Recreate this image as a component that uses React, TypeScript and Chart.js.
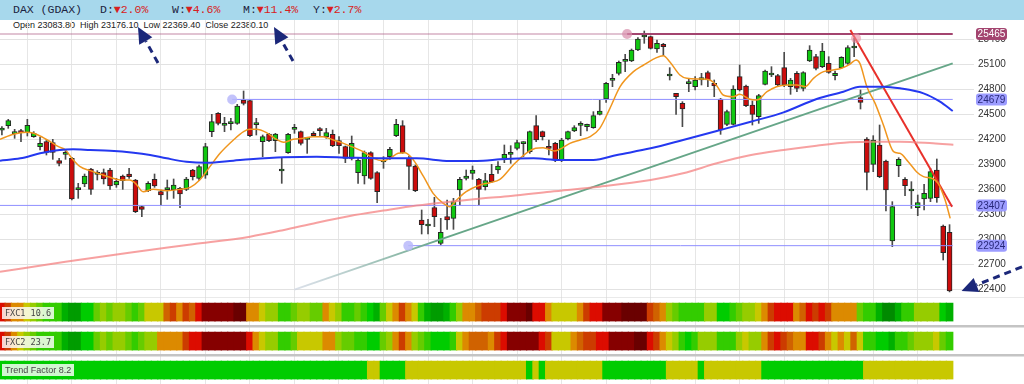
import React, { useEffect, useRef } from "react";
import { Chart, registerables } from "chart.js";

Chart.register(...registerables);

// ---------- DATA ----------
const OPEN = [
  24310, 24364, 24268, 24284, 24284, 24232, 24112, 24172, 24160, 23944,
  24020, 23972, 23596, 23664, 23844, 23780, 23800, 23832, 23652, 23760,
  23784, 23712, 23392, 23584, 23720, 23572, 23596, 23592, 23612, 23600,
  23832, 23732, 23770, 24292, 24512, 24368, 24388, 24392, 24672, 24664,
  24376, 24172, 24264, 24184, 23820, 24040, 24320, 24292, 24200, 24272,
  24324, 24232, 24260, 24184, 24112, 23972, 23800, 23760, 24040, 23800,
  23928, 23992, 24244, 24364, 23972, 23880, 23232, 23160, 23380, 22950,
  23272, 23252, 23592, 23732, 23792, 23720, 23632, 23780, 23832, 23972,
  24020, 24092, 24148, 24052, 24364, 24292, 24112, 24152, 23952, 24204,
  24300, 24368, 24352, 24340, 24500, 24684, 24908, 24992, 25136, 25140,
  25272, 25428, 25432, 25284, 25340, 24960, 24752, 24632, 24868, 24832,
  24912, 25000, 24872, 24684, 24380, 24380, 24952, 24840, 24612, 24472,
  24860, 24972, 24964, 25060, 24832, 24992, 24812, 25140, 25192, 25072,
  25112, 24964, 25060, 25112, 25296, 24700, 24204, 23900, 24132, 23940,
  22980, 23884, 23720, 23580, 23380, 23484, 23492, 23832, 23160, 23083.8,
];
const HIGH = [
  24352, 24440, 24320, 24320, 24440, 24292, 24224, 24192, 24200, 23972,
  24064, 23984, 23672, 23784, 23852, 23824, 23844, 23852, 23732, 23772,
  23852, 23720, 23400, 23692, 23784, 23592, 23712, 23724, 23624, 23744,
  23840, 23892, 24152, 24500, 24520, 24464, 24452, 24620, 24780, 24672,
  24452, 24252, 24272, 24272, 23972, 24272, 24380, 24300, 24220, 24292,
  24340, 24332, 24312, 24232, 24120, 24240, 23972, 24060, 24052, 23812,
  23992, 24104, 24440, 24424, 24000, 23892, 23352, 23240, 23504, 23252,
  23472, 23492, 23744, 23832, 23880, 23732, 23792, 23900, 23932, 24132,
  24124, 24192, 24172, 24300, 24484, 24300, 24192, 24164, 24212, 24300,
  24364, 24412, 24384, 24532, 24672, 24884, 24980, 25140, 25220, 25284,
  25420, 25500, 25440, 25392, 25352, 25060, 24752, 24652, 24932, 24952,
  24992, 25020, 24912, 24692, 24552, 24844, 25092, 24852, 24660, 24740,
  25032, 25072, 24980, 25244, 24932, 25012, 25012, 25324, 25220, 25352,
  25192, 25020, 25192, 25324, 25412, 24792, 24220, 24244, 24372, 23952,
  23452, 23980, 23740, 23692, 23532, 23660, 23852, 23964, 23172, 23176.1,
];
const LOW = [
  24252, 24332, 24212, 24172, 24240, 24224, 24072, 24012, 23960, 23880,
  23960, 23472, 23492, 23632, 23540, 23712, 23664, 23600, 23624, 23600,
  23732, 23320, 23272, 23572, 23624, 23412, 23480, 23492, 23380, 23584,
  23712, 23704, 23732, 24232, 24372, 24292, 24312, 24380, 24612, 24232,
  24252, 23992, 24172, 24052, 23672, 24032, 24272, 24132, 24032, 24232,
  24232, 24212, 24112, 24032, 23920, 23952, 23672, 23664, 23720, 23440,
  23852, 23960, 24232, 24032, 23600, 23572, 23064, 23064, 23152, 22932,
  23120, 23120, 23412, 23712, 23720, 23412, 23592, 23680, 23792, 23920,
  23912, 24072, 23992, 24032, 24172, 24192, 24012, 23932, 23932, 24192,
  24292, 24244, 24300, 24332, 24492, 24644, 24832, 24972, 25012, 25132,
  25264, 25352, 25284, 25244, 25204, 24912, 24500, 24352, 24772, 24792,
  24852, 24832, 24712, 24260, 24364, 24372, 24780, 24592, 24372, 24392,
  24852, 24952, 24844, 24832, 24740, 24772, 24780, 25132, 25032, 25060,
  24992, 24912, 25052, 25100, 25192, 24564, 23592, 23812, 23740, 23340,
  22912, 23752, 23524, 23372, 23284, 23352, 23452, 23444, 22752, 22369.4,
];
const CLOSE = [
  24316, 24424, 24276, 24280, 24368, 24272, 24152, 24044, 24044, 23912,
  24040, 23484, 23604, 23760, 23600, 23788, 23724, 23640, 23696, 23704,
  23752, 23332, 23360, 23672, 23640, 23532, 23604, 23652, 23544, 23724,
  23752, 23872, 24112, 24412, 24392, 24376, 24396, 24600, 24632, 24244,
  24384, 24232, 24184, 24264, 23828, 24260, 24328, 24152, 24208, 24244,
  24304, 24280, 24124, 24124, 23972, 24152, 23952, 24040, 23732, 23572,
  23936, 24080, 24380, 24040, 23876, 23584, 23176, 23168, 23272, 23085,
  23232, 23452, 23720, 23760, 23832, 23600, 23704, 23692, 23880, 24020,
  24044, 24160, 24156, 24292, 24192, 24232, 24092, 23952, 24192, 24292,
  24340, 24376, 24380, 24484, 24540, 24872, 24916, 25124, 25144, 25272,
  25404, 25436, 25292, 25352, 25312, 24968, 24712, 24564, 24876, 24912,
  24940, 24912, 24840, 24312, 24532, 24804, 24792, 24604, 24500, 24724,
  25020, 24992, 24852, 24852, 24912, 24812, 25000, 25272, 25052, 25260,
  25004, 24992, 25184, 25300, 25304, 24644, 23804, 24192, 23752, 23592,
  23392, 23960, 23644, 23588, 23440, 23552, 23812, 23500, 22840, 22380.1,
];

// moving averages: [candle index, price]
const MA_FAST: [number, number][] = [
  [-0.3, 24200], [1.8, 24260], [3.9, 24284], [5, 24272], [6, 24240], [7.6, 24172], [8.9, 24112],
  [10, 24072], [11, 23972], [12.3, 23872], [13.9, 23824], [15.4, 23784], [17, 23744], [18.6, 23712],
  [20.1, 23712], [21, 23672], [22.2, 23572], [23.8, 23600], [25.9, 23584], [28, 23600], [29.6, 23624],
  [31.1, 23712], [32.7, 23872], [34.3, 24032], [36.4, 24192], [38, 24292], [39, 24320], [40, 24320],
  [41.6, 24280], [42.9, 24212], [44.3, 24164], [45.8, 24200], [47.4, 24212], [48.9, 24232], [50.5, 24232],
  [52.1, 24192], [53.7, 24152], [55.3, 24104], [56.8, 24052], [58.4, 23972], [60, 23944], [61, 23972],
  [62.3, 24032], [63.4, 24040], [64.7, 23952], [66.3, 23752], [67.8, 23552], [69.4, 23432], [70.4, 23392],
  [71.5, 23472], [73, 23572], [75.2, 23652], [76.7, 23680], [78.3, 23720], [80.4, 23892], [82.4, 24032],
  [83.9, 24092], [85.1, 24100], [86.9, 24060], [88, 24092], [89.3, 24152], [90.9, 24192], [92.5, 24232],
  [94, 24332], [95.6, 24572], [97.2, 24832], [99.3, 25012], [100.9, 25092], [102.7, 25172], [104, 25204],
  [105, 25132], [106.6, 24972], [107.7, 24932], [109.8, 24924], [111.3, 24912], [112.4, 24844], [113.4, 24732],
  [115, 24712], [116, 24740], [117.6, 24680], [118.7, 24672], [120.3, 24772], [121.8, 24832], [123.4, 24852],
  [125, 24852], [126.3, 24832], [127.6, 24932], [129.2, 25012], [130.7, 25032], [132, 25052], [133.3, 25100],
  [134.3, 25152], [134.9, 25112], [136, 24832], [137.3, 24632], [138.6, 24372], [140.2, 24052], [141.2, 24032],
  [142.5, 23932], [143.8, 23812], [144.9, 23752], [146.2, 23732], [147.2, 23672], [148.3, 23472], [149.1, 23252],
];
const MA_MID: [number, number][] = [
  [-0.3, 23944], [2.9, 23972], [6, 24032], [9.1, 24072], [11.2, 24080], [13.9, 24072], [17, 24064],
  [20.7, 24040], [23.3, 24012], [25.9, 23972], [29, 23932], [32.2, 23920], [36.4, 23944], [39, 23960],
  [44.3, 23984], [49.5, 23992], [54.7, 23980], [60, 23972], [65.2, 23972], [70.4, 23940], [75.7, 23944],
  [78.3, 23960], [83.6, 23972], [87.7, 23952], [93, 23952], [96.7, 24012], [102, 24092], [107.1, 24192],
  [112.4, 24300], [117.6, 24408], [122.9, 24524], [128.1, 24684], [132.3, 24772], [134.9, 24832],
  [138.6, 24832], [141.2, 24812], [144.9, 24752], [147.5, 24652], [149.5, 24540],
];
const MA_SLOW: [number, number][] = [
  [-0.3, 22610], [10, 22730], [20, 22840], [30, 22940], [39, 23032], [44.2, 23110], [49.5, 23200],
  [54.7, 23280], [60, 23345], [65.2, 23405], [70.5, 23452], [75.7, 23492], [80, 23520], [86.2, 23572],
  [94, 23632], [102, 23712], [107.1, 23792], [112.4, 23912], [117.6, 24008], [122.9, 24072],
  [128.1, 24124], [133.3, 24164], [137, 24172], [141.2, 24172], [146.4, 24152], [149.6, 24135],
];
const TREND_UP: [number, number][] = [[46, 22396], [149.5, 25111]];
const TREND_DOWN: [number, number][] = [[133.4, 25512], [149.4, 23390]];

const LEVELS = [25465, 24679, 23407, 22924];
const LEVEL_ANCHOR = [98.3, 36.2, -0.3, 63.9];
const PRICE_TICKS = [22400, 22700, 23000, 23300, 23600, 23900, 24200, 24500, 24800, 25100, 25400];
const GRID_IDX = [4, 11, 18, 25, 32, 39, 46, 53, 60, 67, 74, 81, 88, 95, 102, 109, 116, 123, 130, 137, 144];

const HEADER_CHANGES = [
  { k: "D:", v: "▼2.0%" },
  { k: "W:", v: "▼4.6%" },
  { k: "M:", v: "▼11.4%" },
  { k: "Y:", v: "▼2.7%" },
];
const OHLC_TEXT = "Open 23083.80  High 23176.10  Low 22369.40  Close 22380.10";

const FXC1 =
  "RrOOYylggg" + "dkkGGlylyy" + "lglYYYorOr" + "oRMMMMMDDO" + "OYyygglyyl" +
  "lOYygglgGd" + "lYOrOYgdkk" + "dgyOOorrrR" + "MMMDRROYYY" + "YOrRRMMMDD" +
  "DDroOylggg" + "gyyGGglyyY" + "OrRRROoRrR" + "rOOOOlggdK" + "KdggyyyyGd";
const FXC2 =
  "RrOYylgggg" + "dkkGGlylyy" + "lglyyOOOOr" + "RRMMMMMMMR" + "OYyygglYYY" +
  "YOOyllggGG" + "lyOrOylgGG" + "GgYOoooOrR" + "MMMMMRrYYY" + "OorrRRMMMM" +
  "DDRrOYygGg" + "yyygggyYyy" + "OrRroOORRr" + "OYOYoYggGG" + "dgglyyyYlg";
const TREND =
  "GGGGGGGGGG" + "GGGGGGGGGG" + "GGGGGGGGGG" + "GGGGGGGGGG" + "GGGGGGGGGG" +
  "GGGGGGGGYY" + "GGGGYYYYYY" + "YYYYYYYYYY" + "YYYGYGYYYY" + "YYYYYGGGGG" +
  "GGGGGYYYYY" + "GYYYYYYYYY" + "GGGGGGGGGG" + "GGGGGGYYYY" + "YYYYYYYYYY";
const STRIP_LABELS = ["FXC1 10.6", "FXC2 23.7", "Trend Factor 8.2"];

const PALETTE: Record<string, string> = {
  D: "#6a0000", M: "#860000", R: "#dc0c00", r: "#cc3c00", o: "#d06200", O: "#dc8a00",
  Y: "#c8c800", y: "#96cc00", l: "#66cc00", g: "#33cc00", G: "#00cc00", d: "#00b000",
  k: "#009c00", K: "#008a00",
};

// ---------- STYLE ----------
const X_MIN = -0.3;
const X_MAX = 149.7;
const Y_MIN = 22308;
const Y_MAX = 25632;
const AXIS_W = 70;
const FONT = '"Liberation Sans", Arial, sans-serif';

const pts = (a: [number, number][]) => a.map(([x, y]) => ({ x, y }));

function drawArrow(ctx: CanvasRenderingContext2D, tx: number, ty: number, fx: number, fy: number) {
  const ang = Math.atan2(ty - fy, tx - fx);
  const head = 16;
  const hw = 7.5;
  const bx = tx - head * Math.cos(ang);
  const by = ty - head * Math.sin(ang);
  ctx.strokeStyle = "#1b2779";
  ctx.fillStyle = "#1b2779";
  ctx.lineWidth = 3;
  ctx.setLineDash([7, 5]);
  ctx.beginPath();
  ctx.moveTo(fx, fy);
  ctx.lineTo(bx, by);
  ctx.stroke();
  ctx.setLineDash([]);
  ctx.beginPath();
  ctx.moveTo(tx, ty);
  ctx.lineTo(bx + hw * Math.sin(ang), by - hw * Math.cos(ang));
  ctx.lineTo(bx - hw * Math.sin(ang), by + hw * Math.cos(ang));
  ctx.closePath();
  ctx.fill();
}

const overlayPlugin = {
  id: "overlay",
  afterDraw(chart: any) {
    const { ctx, chartArea, scales } = chart;
    const ys = scales.y;
    const xs = scales.x;
    ctx.save();
    ctx.font = `10px ${FONT}`;
    ctx.textBaseline = "middle";
    ctx.textAlign = "center";
    LEVELS.forEach((v, k) => {
      const y = ys.getPixelForValue(v);
      const x = chartArea.right + 22;
      const w = 31;
      const h = 12;
      ctx.fillStyle = k === 0 ? "#a3446f" : "#9c9cff";
      ctx.beginPath();
      (ctx as any).roundRect(x, y - h / 2, w, h, 3);
      ctx.fill();
      ctx.fillStyle = k === 0 ? "#ffffff" : "#28287a";
      ctx.fillText(String(v), x + w / 2, y + 0.5);
    });
    // annotation arrows
    drawArrow(ctx, 138, 7, 158, 43);
    drawArrow(ctx, 274, 7, 293, 41);
    const last = OPEN.length - 1;
    const tx = xs.getPixelForValue(last) + 12;
    const ty = ys.getPixelForValue(LOW[last]) - 1;
    drawArrow(ctx, tx, ty, chart.width - 2, ty - 24);
    ctx.restore();
  },
};

const xAxis = () => ({
  type: "linear",
  min: X_MIN,
  max: X_MAX,
  offset: false,
  afterBuildTicks: (s: any) => {
    s.ticks = GRID_IDX.map((v) => ({ value: v }));
  },
  afterFit: (s: any) => {
    s.height = 0;
    s.paddingLeft = 0;
    s.paddingRight = 0;
  },
  ticks: { display: false },
  grid: { color: "#e6e6e6", drawTicks: false, offset: false },
  border: { display: false },
});

export default function App() {
  const mainRef = useRef<HTMLCanvasElement>(null);
  const stripRef = useRef<HTMLCanvasElement>(null);

  useEffect(() => {
    const up = CLOSE.map((c, i) => c >= OPEN[i]);
    const bodies = OPEN.map((o, i) => ({ x: i, y: [o, CLOSE[i]] }));
    const wicks = OPEN.map((_, i) => ({ x: i, y: [LOW[i], HIGH[i]] }));

    const lineDs = (data: any[], color: any, width: number, extra: any = {}) => ({
      type: "line",
      data,
      borderColor: color,
      borderWidth: width,
      pointRadius: 0,
      pointHoverRadius: 0,
      fill: false,
      spanGaps: false,
      cubicInterpolationMode: "monotone",
      order: 0,
      ...extra,
    });
    const straight = { cubicInterpolationMode: "default", tension: 0 };

    const levelDatasets: any[] = [];
    LEVELS.forEach((v, k) => {
      if (k === 0) {
        levelDatasets.push(lineDs([{ x: X_MIN, y: v }, { x: LEVEL_ANCHOR[k], y: v }], "rgba(175,95,135,0.5)", 1.5, straight));
        levelDatasets.push(lineDs([{ x: LEVEL_ANCHOR[k], y: v }, { x: 149.5, y: v }], "#a3446f", 2, straight));
      } else {
        levelDatasets.push(lineDs([{ x: LEVEL_ANCHOR[k], y: v }, { x: 149.5, y: v }], "#8f8fff", 1, straight));
      }
    });

    const circles = {
      type: "scatter",
      showLine: false,
      data: [
        { x: LEVEL_ANCHOR[1], y: LEVELS[1] },
        { x: LEVEL_ANCHOR[3], y: LEVELS[3] },
        { x: LEVEL_ANCHOR[0], y: LEVELS[0] },
        { x: TREND_DOWN[0][0] + 0.9, y: HIGH[134] },
      ],
      borderColor: "rgba(0,0,0,0)",
      borderWidth: 0,
      pointRadius: 5,
      pointHoverRadius: 0,
      pointBorderWidth: 0,
      pointBorderColor: "rgba(0,0,0,0)",
      pointBackgroundColor: ["rgba(185,185,250,0.85)", "rgba(185,185,250,0.85)", "rgba(215,140,170,0.7)", "rgba(235,140,160,0.6)"],
      order: -1,
    };

    const trendUpColor = (ctx: any) => {
      const chart = ctx.chart;
      const { chartArea, scales } = chart;
      if (!chartArea) return "#5f9f80";
      const x0 = scales.x.getPixelForValue(TREND_UP[0][0]);
      const x1 = scales.x.getPixelForValue(69);
      const g = chart.ctx.createLinearGradient(x0, 0, x1, 0);
      g.addColorStop(0, "rgba(205,212,225,0.7)");
      g.addColorStop(1, "#66a688");
      return g;
    };

    const main = new Chart(mainRef.current as HTMLCanvasElement, {
      type: "bar",
      data: {
        datasets: [
          {
            type: "bar",
            data: wicks,
            backgroundColor: "#4a4a4a",
            barThickness: 1,
            grouped: false,
            order: 3,
          },
          {
            type: "bar",
            data: bodies,
            backgroundColor: up.map((u) => (u ? "#10c810" : "#cc0c0c")),
            borderColor: "#262626",
            borderWidth: 1,
            borderSkipped: false,
            barThickness: 5,
            minBarLength: 2,
            grouped: false,
            order: 2,
          },
          lineDs(pts(MA_SLOW), "rgba(244,130,130,0.75)", 2),
          lineDs(pts(MA_MID), "#2438f0", 2),
          lineDs(pts(MA_FAST), "#f0961e", 1.5),
          lineDs(pts(TREND_UP), trendUpColor, 2, straight),
          lineDs(pts(TREND_DOWN), "#e8302a", 2, straight),
          ...levelDatasets,
          circles,
        ] as any,
      },
      options: {
        animation: false,
        responsive: false,
        maintainAspectRatio: false,
        events: [],
        layout: { padding: 0, autoPadding: false },
        plugins: { legend: { display: false }, tooltip: { enabled: false } },
        scales: {
          x: xAxis(),
          y: {
            type: "linear",
            position: "right",
            min: Y_MIN,
            max: Y_MAX,
            afterBuildTicks: (s: any) => {
              s.ticks = PRICE_TICKS.map((v) => ({ value: v }));
            },
            afterFit: (s: any) => {
              s.width = AXIS_W;
              s.paddingTop = 0;
              s.paddingBottom = 0;
            },
            ticks: {
              color: "#333",
              font: { family: FONT, size: 10, lineHeight: 0.1 },
              padding: 4,
              callback: (v: any) => String(v),
            },
            grid: { color: "#e2e2e2", tickLength: 20 },
            border: { display: false },
          },
        },
      } as any,
      plugins: [overlayPlugin],
    });

    const stripSets = [FXC1, FXC2, TREND].map((codes, r) => ({
      type: "bar",
      data: Array.from(codes).map((_, i) => ({ x: i, y: [r + 0.21, r + 0.83] })),
      backgroundColor: Array.from(codes).map((c) => PALETTE[c]),
      barThickness: 7,
      borderWidth: 0,
      grouped: false,
    }));

    const strips = new Chart(stripRef.current as HTMLCanvasElement, {
      type: "bar",
      data: { datasets: stripSets as any },
      options: {
        animation: false,
        responsive: false,
        maintainAspectRatio: false,
        events: [],
        layout: { padding: 0, autoPadding: false },
        plugins: { legend: { display: false }, tooltip: { enabled: false } },
        scales: {
          x: xAxis(),
          y: {
            type: "linear",
            position: "right",
            reverse: true,
            min: 0,
            max: 3,
            afterBuildTicks: (s: any) => {
              s.ticks = [0, 1, 2].map((v) => ({ value: v }));
            },
            afterFit: (s: any) => {
              s.width = AXIS_W;
              s.paddingTop = 0;
              s.paddingBottom = 0;
            },
            ticks: { display: false },
            grid: {
              color: (c: any) => (c.index === 0 ? "#d6d6d6" : "#c4c4c4"),
              lineWidth: (c: any) => (c.index === 0 ? 1.5 : 2.5),
              tickLength: AXIS_W,
            },
            border: { display: false },
          },
        },
      } as any,
    });

    return () => {
      main.destroy();
      strips.destroy();
    };
  }, []);

  const labelBox = (top: number, mono: boolean): React.CSSProperties => ({
    position: "absolute",
    left: 2,
    top,
    height: 12,
    lineHeight: "12px",
    padding: "0 3px",
    background: "rgba(255,255,255,0.82)",
    color: "#444",
    fontSize: mono ? 8.5 : 9,
    fontFamily: mono ? '"DejaVu Sans Mono", "Liberation Mono", monospace' : FONT,
    whiteSpace: "pre",
    zIndex: 3,
  });

  const monoFont = '"Liberation Mono", "DejaVu Sans Mono", monospace';
  const changeLeft = [100, 172, 243, 313];

  return (
    <div
      style={{
        position: "fixed",
        left: 0,
        top: 0,
        width: 1024,
        height: 384,
        background: "#fff",
        overflow: "hidden",
      }}
    >
      <div
        style={{
          position: "absolute",
          left: 0,
          top: 0,
          width: 1024,
          height: 20,
          background: "#a7d8ec",
          fontFamily: monoFont,
          fontSize: 11.5,
          lineHeight: "20px",
          color: "#1c2440",
          whiteSpace: "pre",
        }}
      >
        <span style={{ position: "absolute", left: 13 }}>DAX (GDAX)</span>
        {HEADER_CHANGES.map((h, i) => (
          <span key={h.k} style={{ position: "absolute", left: changeLeft[i] }}>
            {h.k}
            <span style={{ color: "#d82020" }}>{h.v}</span>
          </span>
        ))}
      </div>
      <div
        style={{
          position: "absolute",
          left: 13,
          top: 19,
          fontFamily: FONT,
          fontSize: 9,
          lineHeight: "12px",
          color: "#222",
          whiteSpace: "pre",
        }}
      >
        {OHLC_TEXT}
      </div>
      <canvas
        ref={mainRef}
        width={1024}
        height={277}
        style={{ position: "absolute", left: 0, top: 20, width: 1024, height: 277 }}
      />
      <canvas
        ref={stripRef}
        width={1024}
        height={87}
        style={{ position: "absolute", left: 0, top: 297, width: 1024, height: 87 }}
      />
      <div style={labelBox(307, true)}>{STRIP_LABELS[0]}</div>
      <div style={labelBox(336, true)}>{STRIP_LABELS[1]}</div>
      <div style={labelBox(364, false)}>{STRIP_LABELS[2]}</div>
    </div>
  );
}
